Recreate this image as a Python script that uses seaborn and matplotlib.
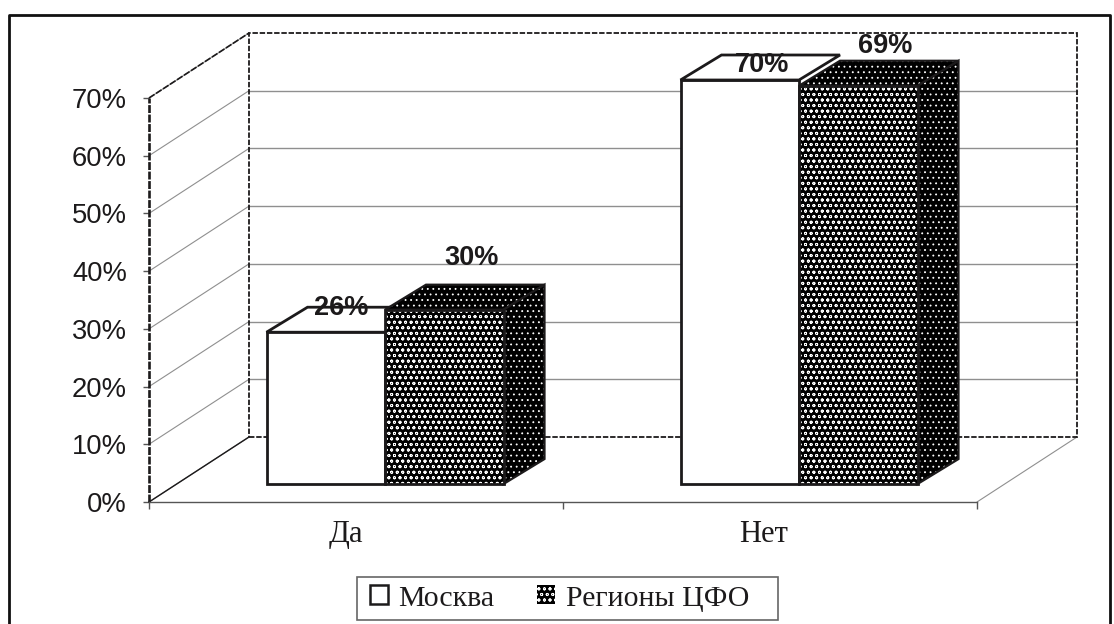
import seaborn as sns
import matplotlib.pyplot as plt
import pandas as pd
from matplotlib.patches import Patch, Polygon, Rectangle
from matplotlib.lines import Line2D

categories = ['Да', 'Нет']
series_names = ['Москва', 'Регионы ЦФО']
moscow = [26.3, 70]
regions = [30.2, 69]
value_labels = [['26%', '70%'], ['30%', '69%']]
wall_ticks = [0, 10, 20, 30, 40, 50, 60, 70]

INK = '#1c1a1b'
GRID = '#8f8f8f'
W, H = 1114, 624

sns.set_style('white')
plt.rcParams['font.family'] = ['Liberation Sans', 'DejaVu Sans']
plt.rcParams['hatch.linewidth'] = 0.6

df = pd.DataFrame({
    'cat': categories * 2,
    'series': [series_names[0]] * 2 + [series_names[1]] * 2,
    'value': moscow + regions,
})

fig = plt.figure(figsize=(W / 100, H / 100), dpi=100)
ax = fig.add_axes([149 / W, 1 - 502 / H, 828 / W, 404 / H])

sns.barplot(data=df, x='cat', y='value', hue='series', order=categories,
            hue_order=series_names, width=237 / 414, gap=0, saturation=1,
            palette=['white', 'black'], legend=False, ax=ax)

# px -> data scale, the floor of the chart sits 18 px above the axis line
px_x = 1 / 414
px_y = 70 / 404
base = 18 * px_y
ax.set_xlim(-236 * px_x, 592 * px_x)
ax.set_ylim(-base, 70 - base)

# walls
wx, wy = 100 * px_x, 65 * px_y
x0, x1 = ax.get_xlim()
for t in wall_ticks:
    y = t - base
    ax.plot([x0, x0 + wx], [y, y + wy], color=GRID, lw=0.8, clip_on=False, zorder=1)
    if 0 < t < 70:
        ax.plot([x0 + wx, x1 + wx], [y + wy, y + wy], color=GRID, lw=1, clip_on=False, zorder=1)
ax.plot([x0, x0 + wx], [-base, -base + wy], color=INK, lw=1, clip_on=False, zorder=2)
ax.plot([x0, x0 + wx], [70 - base, 70 - base + wy], color=INK, lw=1.2, ls=(0, (4, 1)), clip_on=False, zorder=2)
ax.plot([x1, x1 + wx], [-base, -base + wy], color=GRID, lw=0.8, clip_on=False, zorder=2)
ax.add_patch(Rectangle((x0 + wx, -base + wy), x1 - x0, 70, fill=False, edgecolor=INK,
                       lw=1.3, ls=(0, (3, 1)), clip_on=False, zorder=2))
ax.plot([x0, x0], [-base, 70 - base], color=INK, lw=1.9, ls=(0, (3, 0.6)), clip_on=False, zorder=2)

# bars with their 3d sides
dx, dy = 41 * px_x, 25 * px_y
dense = 'ooo'
side = '...'
for s, cont in enumerate(ax.containers):
    for bar in cont:
        x, w, h = bar.get_x(), bar.get_width(), bar.get_height()
        bar.set_clip_on(False)
        bar.set_zorder(3.5)
        bar.set_linewidth(0)
        top = [(x, h), (x + dx, h + dy), (x + w + dx, h + dy), (x + w, h)]
        right = [(x + w, 0), (x + w + dx, dy), (x + w + dx, h + dy), (x + w, h)]
        top_z = 3 + h / 100
        if s == 0:
            bar.set_facecolor('white')
            ax.add_patch(Polygon(top, closed=True, facecolor='white', edgecolor=INK, lw=2,
                                 clip_on=False, zorder=top_z))
        else:
            bar.set_facecolor('black')
            bar.set_edgecolor('white')
            bar.set_hatch(dense)
            for pts, z in [(top, top_z), (right, 3.4)]:
                ax.add_patch(Polygon(pts, closed=True, facecolor='black', edgecolor='white',
                                     hatch=side, lw=0, clip_on=False, zorder=z))
                ax.add_patch(Polygon(pts, closed=True, fill=False, edgecolor=INK, lw=1.6,
                                     clip_on=False, zorder=z))
        ax.add_patch(Rectangle((x, 0), w, h, fill=False, edgecolor=INK, lw=2,
                               clip_on=False, zorder=3.6))

# value labels, offsets from the bar's top centre in px
label_offsets = [[(15, 24), (22, 15)], [(27, 52), (27, 40)]]
for s, cont in enumerate(ax.containers):
    for i, bar in enumerate(cont):
        ox, oy = label_offsets[s][i]
        ax.annotate(value_labels[s][i],
                    (bar.get_x() + bar.get_width() / 2, bar.get_height()),
                    xytext=(ox * 0.72, oy * 0.72), textcoords='offset points',
                    ha='center', va='center', fontsize=19.5, fontweight='bold',
                    color=INK, zorder=6, annotation_clip=False)

# axes
sns.despine(ax=ax, top=True, right=True, left=True, bottom=False)
ax.spines['bottom'].set_color('#555555')
ax.spines['bottom'].set_linewidth(1)
ax.set_xlabel('')
ax.set_ylabel('')
ax.set_yticks([t - base for t in wall_ticks])
ax.set_yticklabels([f'{t}%' for t in wall_ticks], fontsize=19.7, color=INK)
ax.tick_params(axis='y', length=4.5, width=1, color='#555555', left=True, pad=11.3)
ax.set_xticks([-39 * px_x, 1 - 35 * px_x])
ax.set_xticklabels(categories, fontsize=22, family='Liberation Serif', color=INK)
ax.tick_params(axis='x', which='major', length=0, pad=13)
ax.set_xticks([x0, (x0 + x1) / 2, x1], minor=True)
ax.tick_params(axis='x', which='minor', length=5, width=1, color='#555555', bottom=True)

# legend, box drawn apart because its margins are uneven
fig.add_artist(Rectangle((357 / W, 1 - 620 / H), 421 / W, 43 / H, transform=fig.transFigure,
                         facecolor='white', edgecolor='#666666', lw=1.2))
handles = [
    Patch(facecolor='white', edgecolor=INK, lw=1.8),
    Patch(facecolor='black', edgecolor='white', hatch='ooo', lw=0),
]
leg = fig.legend(handles, series_names, loc='center left', bbox_to_anchor=(370 / W, 1 - 598.5 / H),
                 ncol=2, frameon=False, prop={'family': 'Liberation Serif', 'size': 21.5},
                 labelcolor=INK, handlelength=0.6, handleheight=0.6, handletextpad=0.35,
                 columnspacing=1.43, borderpad=0, borderaxespad=0)

# outer frame, runs off the bottom edge
fig.add_artist(Line2D([9 / W, 9 / W, 1110 / W, 1110 / W],
                      [0, 1 - 15 / H, 1 - 15 / H, 0], color='#111111', lw=2))

fig.savefig('out.png', dpi=100)
